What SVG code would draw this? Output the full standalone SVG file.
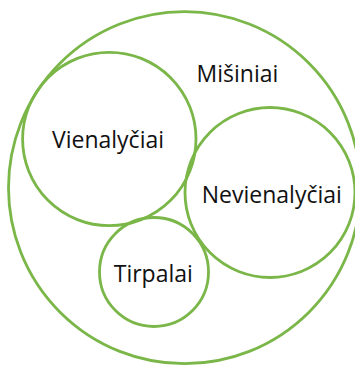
<svg xmlns="http://www.w3.org/2000/svg" width="355" height="367" viewBox="0 0 355 367">
<style>
.c{fill:none;stroke:#7ab648;stroke-width:2.8}
.t{font-family:"Open Sans","Noto Sans","Liberation Sans",sans-serif;font-size:23px;fill:#111;text-anchor:middle}
</style>
<rect width="355" height="367" fill="#fff"/>
<g id="misiniai">
<circle class="c" cx="184.5" cy="187.7" r="176"/>
<text class="t" x="237.5" y="81.7">Mišiniai</text>
</g>
<g id="vienalyciai">
<circle class="c" cx="109.3" cy="139" r="86.7"/>
<text class="t" x="108" y="148.3">Vienalyčiai</text>
</g>
<g id="nevienalyciai">
<circle class="c" cx="270" cy="192.5" r="85"/>
<text class="t" x="271.8" y="202.7">Nevienalyčiai</text>
</g>
<g id="tirpalai">
<circle class="c" cx="154" cy="272" r="54.5"/>
<text class="t" x="153.3" y="281.7">Tirpalai</text>
</g>
<g id="connectors"/>
</svg>
